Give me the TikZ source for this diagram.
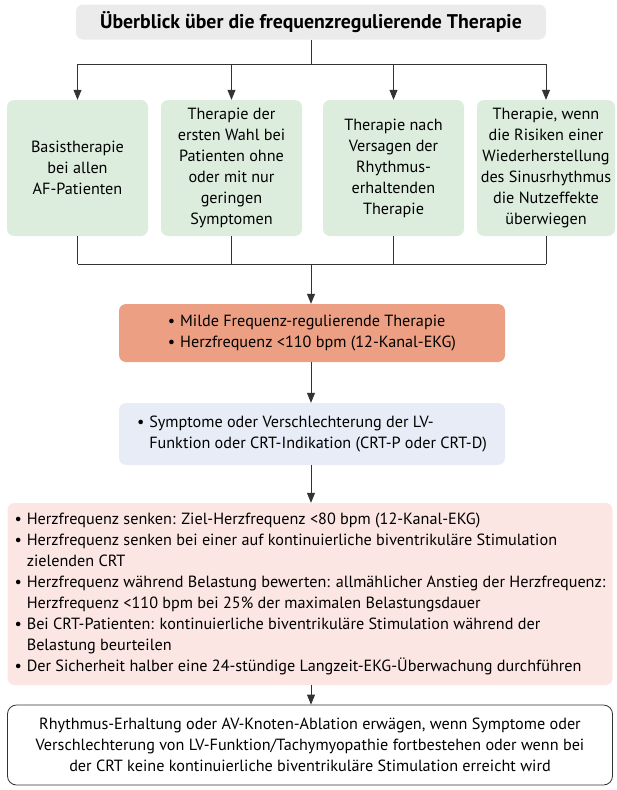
\documentclass[tikz,border=0pt]{standalone}
\usepackage{fontspec}
\setmainfont{PT Sans}
\usetikzlibrary{arrows.meta}
\definecolor{titlegrey}{HTML}{EBEBEB}
\definecolor{boxgreen}{HTML}{DCEDDE}
\definecolor{boxorange}{HTML}{EC9F82}
\definecolor{boxblue}{HTML}{E7ECF6}
\definecolor{boxpink}{HTML}{FBE6E3}
\definecolor{linegrey}{HTML}{333333}
\newcommand{\bul}{\textbullet\hspace{0.3em}}
\newcommand{\cnt}{\phantom{\bul}}

\begin{document}
\begin{tikzpicture}[x=1pt,y=-1pt,
  box/.style={rounded corners=7pt, inner sep=0pt, font=\fontsize{16.2}{21}\selectfont},
  line/.style={draw=linegrey, line width=0.8pt},
  arr/.style={line, -{Triangle[length=10pt,width=8pt]}}]
  \useasboundingbox (0,0) rectangle (616,790);

  \path
    (311,22) node[box, fill=titlegrey, minimum width=470pt, minimum height=35pt,
      font=\fontsize{19.8}{21}\selectfont\bfseries] (t) {Überblick über die frequenzregulierende Therapie}
    (77.5,168) node[box, fill=boxgreen, minimum width=141pt, minimum height=136pt, align=center] (g1)
      {Basistherapie\\bei allen\\AF-Patienten}
    (231.5,168) node[box, fill=boxgreen, minimum width=141pt, minimum height=136pt, align=center] (g2)
      {Therapie der\\ersten Wahl bei\\Patienten ohne\\oder mit nur\\geringen\\Symptomen}
    (393.5,168) node[box, fill=boxgreen, minimum width=141pt, minimum height=136pt, align=center] (g3)
      {Therapie nach\\Versagen der\\Rhythmus-\\erhaltenden\\Therapie}
    (546,168) node[box, fill=boxgreen, minimum width=138pt, minimum height=136pt, align=center] (g4)
      {Therapie, wenn\\die Risiken einer\\Wiederherstellung\\des Sinusrhythmus\\die Nutzeffekte\\überwiegen}
    (312,333) node[box, fill=boxorange, minimum width=386pt, minimum height=58pt, align=left] (o)
      {\bul Milde Frequenz-regulierende Therapie\\\bul Herzfrequenz <110 bpm (12-Kanal-EKG)}
    (312,434) node[box, fill=boxblue, minimum width=386pt, minimum height=62pt, align=left] (b)
      {\bul Symptome oder Verschlechterung der LV-\\\cnt Funktion oder CRT-Indikation (CRT-P oder CRT-D)}
    (310,594) node[box, fill=boxpink, minimum width=605pt, minimum height=182pt, align=left] (p)
      {\bul Herzfrequenz senken: Ziel-Herzfrequenz <80 bpm (12-Kanal-EKG)\\
       \bul Herzfrequenz senken bei einer auf kontinuierliche biventrikuläre Stimulation\\
       \cnt zielenden CRT\\
       \bul Herzfrequenz während Belastung bewerten: allmählicher Anstieg der Herzfrequenz:\\
       \cnt Herzfrequenz <110 bpm bei 25\% der maximalen Belastungsdauer\\
       \bul Bei CRT-Patienten: kontinuierliche biventrikuläre Stimulation während der\\
       \cnt Belastung beurteilen\\
       \bul Der Sicherheit halber eine 24-stündige Langzeit-EKG-Überwachung durchführen}
    (310,745) node[box, line, fill=white, rounded corners=9pt, minimum width=605pt, minimum height=80pt, align=center] (r)
      {Rhythmus-Erhaltung oder AV-Knoten-Ablation erwägen, wenn Symptome oder\\
       Verschlechterung von LV-Funktion/Tachymyopathie fortbestehen oder wenn bei\\
       der CRT keine kontinuierliche biventrikuläre Stimulation erreicht wird};

  \coordinate (top) at (t.south |- 0,64);
  \coordinate (bot) at (t.south |- 0,264);

  % split to the four groups
  \draw[line] (t.south) -- (top);
  \draw[line] (g1.north |- top) -- (g4.north |- top);
  \foreach \g in {g1,g2,g3,g4} {
    \draw[arr] (\g.north |- top) -- (\g.north);
    \draw[line] (\g.south) -- (\g.south |- bot);
  }
  \draw[line] (g1.south |- bot) -- (g4.south |- bot);

  \draw[arr] (bot) -- (o.north -| bot);
  \draw[arr] (o.south -| bot) -- (b.north -| bot);
  \draw[arr] (b.south -| bot) -- (p.north -| bot);
  \draw[arr] (p.south -| bot) -- (r.north -| bot);
\end{tikzpicture}
\end{document}
